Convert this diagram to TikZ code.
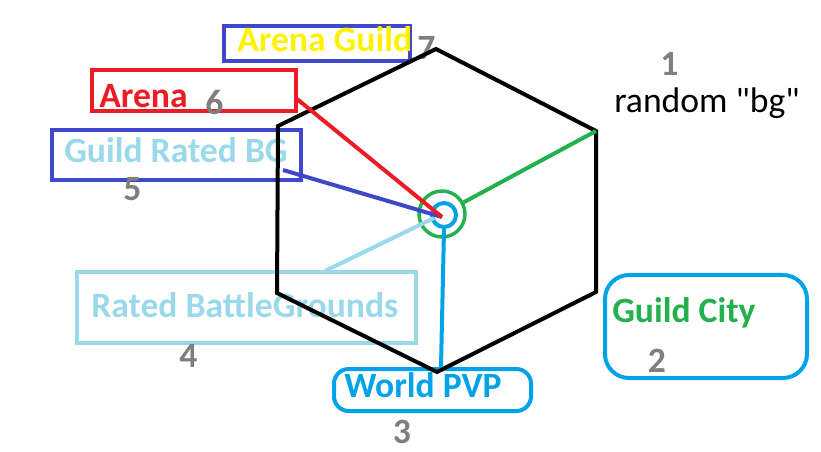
\documentclass[tikz,border=0pt]{standalone}
\usepackage{fontspec}
\setmainfont{Carlito}
\newfontfamily\plainfont{Carlito}
\definecolor{pred}{HTML}{ED1C24}
\definecolor{pind}{HTML}{3F48CC}
\definecolor{ptur}{HTML}{99D9EA}
\definecolor{pblue}{HTML}{00A2E8}
\definecolor{pgreen}{HTML}{22B14C}
\definecolor{pyel}{HTML}{FFF200}
\definecolor{pgray}{HTML}{7F7F7F}
\begin{document}
\begin{tikzpicture}[x=0.75pt,y=-0.75pt,
  boxst/.style={draw=#1,line width=3pt,rectangle,inner sep=0pt},
  lbl/.style={anchor=base west,inner sep=0pt,font=\fontsize{26.7}{30}\selectfont\bfseries,text=#1},
  num/.style={anchor=base,inner sep=0pt,font=\fontsize{26.7}{30}\selectfont\bfseries,text=pgray},
  conn/.style={draw=#1,line width=3pt},
  hexst/.style={draw=black,line width=3pt}]
\useasboundingbox (0,0) rectangle (821,452);
% boxes
\node[boxst=pind,minimum width=186*0.75pt,minimum height=35*0.75pt] (agbox) at (317,43.5) {};
\node[boxst=pred,minimum width=204*0.75pt,minimum height=41*0.75pt] (arbox) at (194,90.5) {};
\node[boxst=pind,minimum width=249*0.75pt,minimum height=50*0.75pt] (grbox) at (176.5,155) {};
\node[boxst=ptur,minimum width=339*0.75pt,minimum height=71*0.75pt] (rbbox) at (246.5,307.5) {};
\node[boxst=pblue,rounded corners=11pt,minimum width=197*0.75pt,minimum height=42*0.75pt] (wpbox) at (432.5,390) {};
\node[boxst=pblue,rounded corners=18pt,minimum width=202*0.75pt,minimum height=103*0.75pt] (gcbox) at (706,326.5) {};
% texts
\node[lbl=pyel] (agt) at (237,52) {Arena Guild};
\node[lbl=pred] (art) at (99,108) {Arena};
\node[lbl=ptur] (grt) at (64,163) {Guild Rated BG};
\node[lbl=ptur] (rbt) at (91,317) {Rated BattleGrounds};
\node[lbl=pblue] (wpt) at (344,397) {World PVP};
\node[lbl=pgreen] (gct) at (612,322) {Guild City};
\node[anchor=base west,inner sep=0pt,font=\plainfont\fontsize{26.7}{30}\selectfont] (rbg) at (614,113) {random "bg"};
% numbers
\node[num] (n1) at (669.5,76) {1};
\node[num] (n2) at (657,372) {2};
\node[num] (n3) at (402,443) {3};
\node[num] (n4) at (188.5,368) {4};
\node[num] (n5) at (132.5,201) {5};
\node[num] (n6) at (214.5,115) {6};
\node[num] (n7) at (426.5,60) {7};
% hexagon
\coordinate (ht) at (436,49);
\coordinate (hur) at (596,131);
\coordinate (hlr) at (596,292);
\coordinate (hb) at (437,372);
\coordinate (hll) at (277,293);
\coordinate (hul) at (278,126);
\draw[hexst] (ht) -- (hur) -- (hlr) -- (hb) -- (hll) -- (hul) -- cycle;
% hub rings
\node[draw=pgreen,line width=2.6pt,circle,inner sep=0pt,minimum size=46*0.75pt] (gring) at (442,214) {};
\node[draw=pblue,line width=3pt,circle,inner sep=0pt,minimum size=24*0.75pt] (bring) at (444,215) {};
\coordinate (hub) at (442,217);
\coordinate (redst) at (297,99);
\coordinate (indst) at (283,170);
\coordinate (turst) at (325,271);
\coordinate (turend) at (434,218);
\coordinate (bend) at (441,367);
% connectors
\draw[conn=pgreen] (gring) -- (hur);
\draw[conn=pblue] (bring.south) -- (bend);
\draw[conn=ptur] (turst) -- (turend);
\draw[conn=pind] (indst) -- (hub);
\draw[conn=pred] (redst) -- (hub);
\end{tikzpicture}
\end{document}
